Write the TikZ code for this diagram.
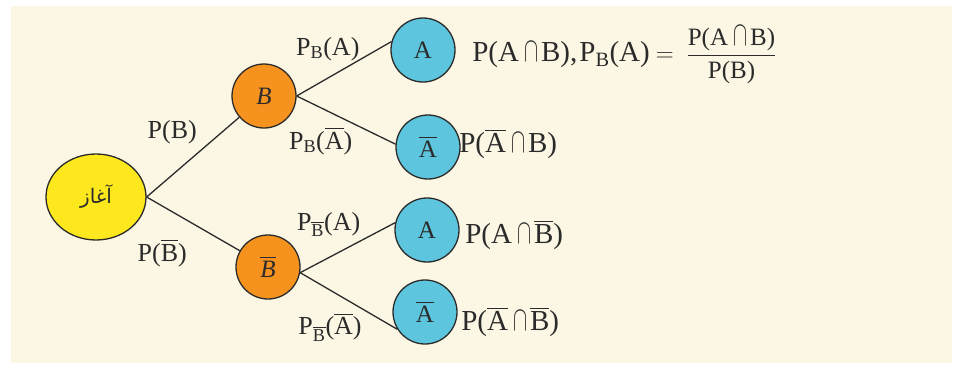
\documentclass[tikz,border=0pt]{standalone}
\usepackage{amsmath}
\usepackage{fontspec}
\setmainfont{Liberation Serif}
\newfontfamily\arabicfont[Script=Arabic]{DejaVu Sans}
\TeXXeTstate=1
\usepackage{tikz}
\usetikzlibrary{positioning}
\usetikzlibrary{shapes.geometric}
\definecolor{cream}{HTML}{FBF7E4}
\definecolor{rootyellow}{HTML}{FCE81C}
\definecolor{darkorange}{HTML}{F6931F}
\definecolor{leafblue}{HTML}{5DC5DD}
\definecolor{edgegray}{HTML}{2B2B2B}
\newcommand{\inter}{\kern5pt\scalebox{0.85}[1.4]{$\cap$}\kern3pt}
\newcommand{\nott}[1]{\ensuremath{\overline{\text{#1}}}}
\tikzset {
  % tree vertices
  root/.style = {draw=edgegray, ellipse, fill=rootyellow, minimum width=100pt, minimum height=86pt},
  event/.style = {draw=edgegray, circle, fill=darkorange, minimum size=64pt, inner sep=0pt, font=\fontsize{25}{30}\selectfont},
  leaf/.style = {draw=edgegray, circle, fill=leafblue, minimum size=64pt, inner sep=0pt, font=\fontsize{25}{30}\selectfont},
  % branch probabilities
  prob/.style = {font=\fontsize{26}{30}\selectfont, inner sep=2pt},
  % joint probabilities beside the leaves
  joint/.style = {font=\fontsize{29}{34}\selectfont, inner sep=0pt},
}
\begin{document}
\begin{tikzpicture}[x=1pt, y=1pt, line width=1.3pt, edgegray]
  \useasboundingbox (0,0) rectangle (962,-367);
  \fill[cream] (11,-6) rectangle (952,-363);

  \node[root] (root) at (96,-197) {\arabicfont\fontsize{20}{24}\selectfont\beginR آغاز\endR};

  \node[event] (b) at (264,-96) {\textit{B}};
  \node[event] (bn) at (268,-267) {\nott{\textit{B}}};

  \node[leaf] (ab) at (423,-50) {A};
  \node[leaf] (anb) at (428,-147) {\nott{A}};
  \node[leaf] (abn) at (427,-230) {A};
  \node[leaf] (anbn) at (425,-312) {\nott{A}};

  \draw (root.east) -- node[prob, above left, pos=0.57, yshift=5pt] (pb) {P(B)} (b);
  \draw (root.east) -- node[prob, below left, pos=0.46, yshift=-15pt] (pbn) {P(\nott{B})} (bn);

  \draw (b.east) -- node[prob, above left, pos=0.69, yshift=-5pt] (pab) {P$_{\text{B}}$(A)} (ab.165);
  \draw (b.east) -- node[prob, below left, pos=0.59] (panb) {P$_{\text{B}}$(\nott{A})} (anb.175);
  \draw (bn.350) -- node[prob, above left, pos=0.66] (pabn) {P$_{\nott{B}}$(A)} (abn.167);
  \draw (bn.350) -- node[prob, below left, pos=0.66] (panbn) {P$_{\nott{B}}$(\nott{A})} (anbn.212);

  \node[joint, right=16pt of ab, yshift=-5pt] (jab) {P(A\inter B),\kern2pt P$_{\text{B}}$(A)$\kern6pt=\kern6pt\dfrac{\text{\fontsize{25}{29}\selectfont P(A\inter B)}}{\text{\fontsize{25}{29}\selectfont P(B)}}$};
  \node[joint, right=-2pt of anb, yshift=3pt] (janb) {P(\nott{A}\inter B)};
  \node[joint, right=5pt of abn, yshift=-5pt] (jabn) {P(A\inter\nott{B})};
  \node[joint, right=3pt of anbn, yshift=-10pt] (janbn) {P(\nott{A}\inter\nott{B})};
\end{tikzpicture}
\end{document}
